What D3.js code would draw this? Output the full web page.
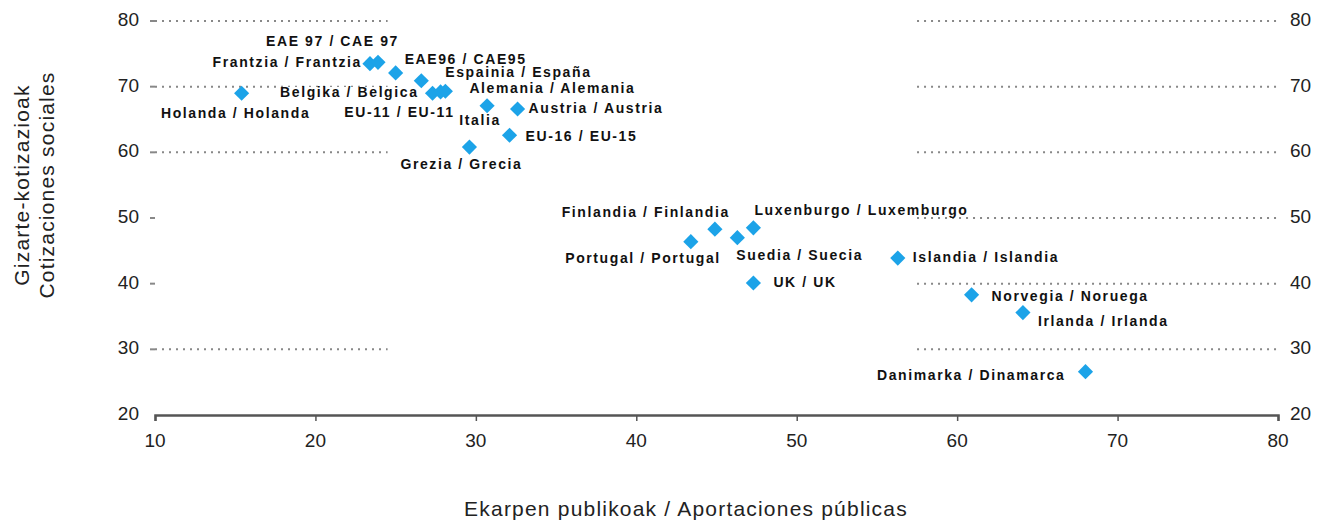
<!DOCTYPE html>
<html lang="en">
  <head>
    <meta charset="UTF-8" />
    <title>Gizarte-kotizazioak / Ekarpen publikoak</title>
    <script src="https://cdnjs.cloudflare.com/ajax/libs/d3/7.8.5/d3.min.js"></script>
    <style>
      html,
      body {
        margin: 0;
        background: #fff;
        font-family: "Liberation Sans", Arial, sans-serif;
      }
      .lbl {
        font-weight: bold;
        font-size: 14px;
        letter-spacing: 1.6px;
        fill: #111;
      }
      .tick {
        font-size: 19px;
        fill: #222;
      }
      .title {
        font-size: 21px;
        letter-spacing: 1.2px;
        fill: #222;
      }
    </style>
  </head>
  <body>
    <div id="chart"></div>
    <script>
      // data
      const names = [
        "Holanda / Holanda", "Frantzia / Frantzia", "EAE 97 / CAE 97",
        "EAE96 / CAE95", "Espainia / España", "Belgika / Belgica",
        "EU-11 / EU-11", "Alemania / Alemania", "Italia", "Austria / Austria",
        "EU-16 / EU-15", "Grezia / Grecia", "Finlandia / Finlandia",
        "Luxenburgo / Luxemburgo", "Portugal / Portugal", "Suedia / Suecia",
        "UK / UK", "Islandia / Islandia", "Norvegia / Noruega",
        "Irlanda / Irlanda", "Danimarka / Dinamarca",
      ];
      const publicShare = [
        15.4, 23.4, 23.9, 25.0, 26.6, 27.3, 27.8, 28.1, 30.7, 32.6, 32.1,
        29.6, 44.9, 47.3, 43.4, 46.3, 47.3, 56.3, 60.9, 64.1, 68.0,
      ];
      const socialShare = [
        69.0, 73.5, 73.7, 72.1, 70.9, 69.0, 69.2, 69.3, 67.1, 66.6, 62.6,
        60.8, 48.3, 48.5, 46.4, 47.0, 40.1, 43.9, 38.3, 35.6, 26.6,
      ];
      const xTicks = [10, 20, 30, 40, 50, 60, 70, 80];
      const yTicks = [20, 30, 40, 50, 60, 70, 80];
      // dotted grid pieces: [y value, from x, to x]
      const gridPieces = [
        [80, 10, 24.5], [70, 10, 24.5], [60, 10, 24.5], [30, 10, 24.5],
        [80, 57.5, 80], [70, 57.5, 80], [60, 57.5, 80], [50, 57.5, 80],
        [40, 57.5, 80], [30, 57.5, 80],
      ];

      // label placement relative to its point (px)
      const labelPos = [
        [-6, 21, "middle"], [-8, 0, "end"], [21, -20, "end"],
        [9, -13, "start"], [24, -7, "start"], [-14, 0, "end"],
        [14, 21, "end"], [24, -2, "start"], [-7, 16, "middle"],
        [11, 0, "start"], [16, 2, "start"], [-8, 18, "middle"],
        [15, -16, "end"], [1, -17, "start"], [30, 18, "end"],
        [-1, 19, "start"], [20, 0, "start"], [15, 0, "start"],
        [20, 2, "start"], [15, 10, "start"], [-20, 5, "end"],
      ];

      const W = 1329, H = 522;
      const color = "#1ca3e8";

      const x = d3.scaleLinear().domain([10, 80]).range([155, 1278]);
      const y = d3.scaleLinear().domain([20, 80]).range([415, 21]);

      const svg = d3
        .select("#chart")
        .append("svg")
        .attr("width", W)
        .attr("height", H);

      // grid
      svg
        .append("g")
        .selectAll("line")
        .data(gridPieces)
        .join("line")
        .attr("x1", (d) => x(d[1]))
        .attr("x2", (d) => x(d[2]))
        .attr("y1", (d) => y(d[0]))
        .attr("y2", (d) => y(d[0]))
        .attr("stroke", "#888")
        .attr("stroke-width", 2)
        .attr("stroke-dasharray", "2,5");

      // left tick marks
      svg
        .append("g")
        .selectAll("line")
        .data(yTicks.filter((d) => d > 20))
        .join("line")
        .attr("x1", x(10) - 5)
        .attr("x2", x(10))
        .attr("y1", (d) => y(d))
        .attr("y2", (d) => y(d))
        .attr("stroke", "#888")
        .attr("stroke-width", 2);

      // x axis
      const xAxis = svg
        .append("g")
        .attr("transform", `translate(0,${y(20)})`)
        .call(d3.axisBottom(x).tickValues(xTicks).tickSize(6).tickFormat(""));
      xAxis.select(".domain").attr("stroke", "#555").attr("stroke-width", 2.5);
      xAxis.selectAll(".tick line").attr("stroke", "#555").attr("stroke-width", 1.5);

      svg
        .append("g")
        .selectAll("text")
        .data(xTicks)
        .join("text")
        .attr("class", "tick")
        .attr("x", (d) => x(d))
        .attr("y", y(20) + 27)
        .attr("text-anchor", "middle")
        .attr("dominant-baseline", "middle")
        .text((d) => d);

      svg
        .append("g")
        .selectAll("text")
        .data(yTicks)
        .join("text")
        .attr("class", "tick")
        .attr("x", x(10) - 16)
        .attr("y", (d) => y(d))
        .attr("text-anchor", "end")
        .attr("dominant-baseline", "middle")
        .text((d) => d);

      svg
        .append("g")
        .selectAll("text")
        .data(yTicks)
        .join("text")
        .attr("class", "tick")
        .attr("x", x(80) + 12)
        .attr("y", (d) => y(d))
        .attr("text-anchor", "start")
        .attr("dominant-baseline", "middle")
        .text((d) => d);

      // axis titles
      svg
        .append("text")
        .attr("class", "title")
        .attr("x", 686)
        .attr("y", 510)
        .attr("text-anchor", "middle")
        .attr("dominant-baseline", "middle")
        .text("Ekarpen publikoak / Aportaciones públicas");

      const yt = svg
        .append("text")
        .attr("class", "title")
        .attr("transform", "translate(22,185) rotate(-90)")
        .attr("text-anchor", "middle");
      yt.append("tspan").attr("x", 0).attr("dy", "0.35em").text("Gizarte-kotizazioak");
      yt.append("tspan").attr("x", 0).attr("dy", "1.15em").text("Cotizaciones sociales");

      // points
      const pts = names.map((n, i) => ({
        name: n,
        px: x(publicShare[i]),
        py: y(socialShare[i]),
        pos: labelPos[i],
      }));

      svg
        .append("g")
        .selectAll("path")
        .data(pts)
        .join("path")
        .attr("d", d3.symbol(d3.symbolSquare, 115))
        .attr("transform", (d) => `translate(${d.px},${d.py}) rotate(45)`)
        .attr("fill", color);

      // labels with white back so the grid doesn't run through them
      const lab = svg.append("g").selectAll("g").data(pts).join("g");
      lab
        .append("text")
        .attr("class", "lbl")
        .attr("x", (d) => d.px + d.pos[0])
        .attr("y", (d) => d.py + d.pos[1])
        .attr("text-anchor", (d) => d.pos[2])
        .attr("dominant-baseline", "middle")
        .text((d) => d.name);
      lab.each(function () {
        const t = d3.select(this).select("text");
        const b = t.node().getBBox();
        d3.select(this)
          .insert("rect", "text")
          .attr("x", b.x)
          .attr("y", b.y + 3)
          .attr("width", b.width)
          .attr("height", b.height - 6)
          .attr("fill", "#fff");
      });
    </script>
  </body>
</html>
